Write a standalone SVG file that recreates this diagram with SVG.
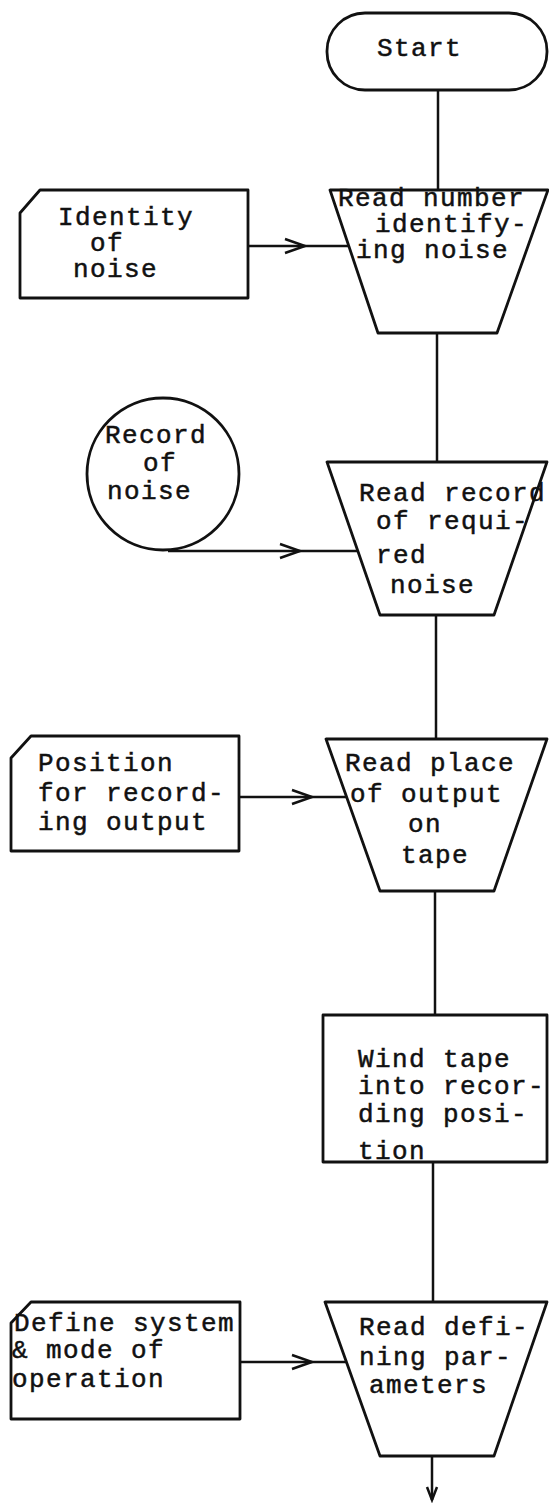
<svg xmlns="http://www.w3.org/2000/svg" width="549" height="1503" viewBox="0 0 549 1503">
  <style>
    .shape { fill: #fff; stroke: #111; stroke-width: 2.8; stroke-linejoin: round; }
    .conn { fill: none; stroke: #111; stroke-width: 2.5; }
    .lbl { font-family: "Liberation Mono", "DejaVu Sans Mono", monospace; font-size: 26px; letter-spacing: 1.4px; fill: #111; stroke: #111; stroke-width: 0.5px; }
  </style>
  <defs>
    <!-- open chevron placed part-way along an input line -->
    <marker id="chev" markerUnits="userSpaceOnUse" markerWidth="30" markerHeight="20" viewBox="-24 -10 30 20" refX="0" refY="0" orient="auto">
      <path d="M-20,-7 L0,0 L-20,7" fill="none" stroke="#111" stroke-width="2.5"/>
    </marker>
    <marker id="chevEnd" markerUnits="userSpaceOnUse" markerWidth="20" markerHeight="16" viewBox="-16 -8 20 16" refX="0" refY="0" orient="auto">
      <path d="M-13,-5 L0,0 L-13,5" fill="none" stroke="#111" stroke-width="2.5"/>
    </marker>
  </defs>

  <g id="connectors">
    <!-- main flow line -->
    <path class="conn" d="M438,90 V190"/>
    <path class="conn" d="M437,333 V462"/>
    <path class="conn" d="M436,615 V739"/>
    <path class="conn" d="M435,891 V1015"/>
    <path class="conn" d="M433,1162 V1302"/>
    <path class="conn" d="M432,1456 V1500" marker-end="url(#chevEnd)"/>
    <!-- input lines -->
    <path class="conn" d="M248,246 L305,246 L349,246" marker-mid="url(#chev)"/>
    <path class="conn" d="M168,551 L300,551 L358,551" marker-mid="url(#chev)"/>
    <path class="conn" d="M239,797 L312,797 L346,797" marker-mid="url(#chev)"/>
    <path class="conn" d="M241,1362 L312,1362 L346,1362" marker-mid="url(#chev)"/>
  </g>

  <g id="start">
    <rect class="shape" x="327" y="13" width="220" height="77" rx="38" ry="38"/>
    <text class="lbl" x="377" y="56">Start</text>
  </g>

  <g id="read-number">
    <polygon class="shape" points="330,190 548,190 497,333 378,333"/>
    <text class="lbl" x="338" y="206">Read number</text>
    <text class="lbl" x="375" y="232">identify-</text>
    <text class="lbl" x="356" y="258">ing noise</text>
  </g>

  <g id="identity-card">
    <path class="shape" d="M40,190 H248 V298 H20 V213 Z"/>
    <text class="lbl" x="58" y="225">Identity</text>
    <text class="lbl" x="90" y="251">of</text>
    <text class="lbl" x="73" y="277">noise</text>
  </g>

  <g id="record-tape">
    <circle class="shape" cx="163" cy="474" r="76"/>
    <text class="lbl" x="105" y="443">Record</text>
    <text class="lbl" x="143" y="471">of</text>
    <text class="lbl" x="107" y="499">noise</text>
  </g>

  <g id="read-record">
    <polygon class="shape" points="327,462 547,462 494,615 380,615"/>
    <text class="lbl" x="359" y="501">Read record</text>
    <text class="lbl" x="376" y="529">of requi-</text>
    <text class="lbl" x="376" y="563">red</text>
    <text class="lbl" x="390" y="593">noise</text>
  </g>

  <g id="position-card">
    <path class="shape" d="M31,736 H239 V851 H11 V758 Z"/>
    <text class="lbl" x="38" y="771">Position</text>
    <text class="lbl" x="38" y="801">for record-</text>
    <text class="lbl" x="38" y="830">ing output</text>
  </g>

  <g id="read-place">
    <polygon class="shape" points="326,739 547,739 494,891 380,891"/>
    <text class="lbl" x="345" y="771">Read place</text>
    <text class="lbl" x="350" y="802">of output</text>
    <text class="lbl" x="408" y="832">on</text>
    <text class="lbl" x="401" y="863">tape</text>
  </g>

  <g id="wind-tape">
    <rect class="shape" x="323" y="1015" width="224" height="147"/>
    <text class="lbl" x="358" y="1067">Wind tape</text>
    <text class="lbl" x="358" y="1094">into recor-</text>
    <text class="lbl" x="358" y="1122">ding posi-</text>
    <text class="lbl" x="358" y="1159">tion</text>
  </g>

  <g id="define-card">
    <path class="shape" d="M31,1302 H240 V1419 H11 V1323 Z"/>
    <text class="lbl" x="14" y="1331">Define system</text>
    <text class="lbl" x="12" y="1358">&amp; mode of</text>
    <text class="lbl" x="12" y="1387">operation</text>
  </g>

  <g id="read-defining">
    <polygon class="shape" points="325,1302 547,1302 494,1456 380,1456"/>
    <text class="lbl" x="359" y="1335">Read defi-</text>
    <text class="lbl" x="359" y="1365">ning par-</text>
    <text class="lbl" x="369" y="1393">ameters</text>
  </g>
</svg>
